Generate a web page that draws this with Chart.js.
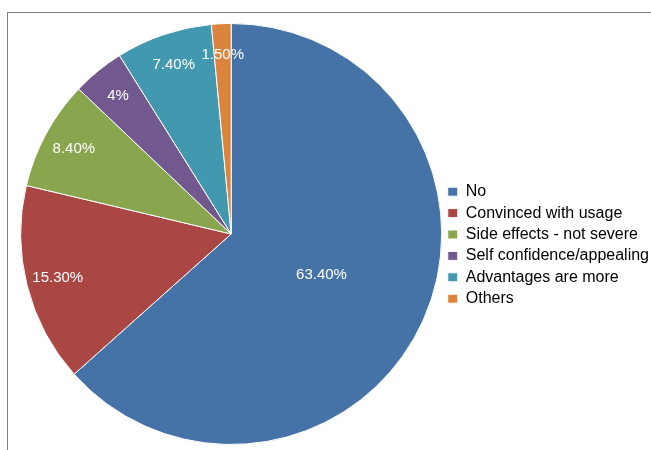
<!DOCTYPE html>
<html>
<head>
<meta charset="utf-8">
<script src="https://cdn.jsdelivr.net/npm/chart.js@4/dist/chart.umd.min.js"></script>
<style>
  html, body { margin: 0; padding: 0; background: #fff; }
  #wrap { position: relative; width: 651px; height: 450px; }
  #frame { position: absolute; left: 7px; top: 12px; right: 0; bottom: 0;
           border-left: 1px solid #7f7f7f; border-top: 1px solid #7f7f7f; }
  #pieChart { position: absolute; left: 0; top: 0; }
</style>
</head>
<body>
<div id="wrap">
  <div id="frame"></div>
  <canvas id="pieChart" width="651" height="450"></canvas>
</div>
<script>
var categories = ["No", "Convinced with usage", "Side effects - not severe",
                  "Self confidence/appealing", "Advantages are more", "Others"];
var shares = [63.4, 15.3, 8.4, 4, 7.4, 1.5];
var shareLabels = ["63.40%", "15.30%", "8.40%", "4%", "7.40%", "1.50%"];

var colorArray = ["#4572A7", "#AA4643", "#89A54E", "#71588F", "#4198AF", "#DB843D"];

// white percentage text inside each slice
var sliceLabels = {
    id: 'sliceLabels',
    afterDatasetsDraw: function(chart) {
        var ctx = chart.ctx;
        var meta = chart.getDatasetMeta(0);
        ctx.save();
        ctx.fillStyle = '#fff';
        ctx.font = '15px "Liberation Sans", Arial, sans-serif';
        ctx.textAlign = 'center';
        ctx.textBaseline = 'middle';
        for (var i = 0; i < meta.data.length; i++) {
            var arc = meta.data[i];
            var mid = (arc.startAngle + arc.endAngle) / 2;
            // big slice gets its text closer to the middle
            var r = shares[i] > 50 ? arc.outerRadius * 0.47 : arc.outerRadius * 0.85;
            ctx.fillText(shareLabels[i], arc.x + Math.cos(mid) * r, arc.y + Math.sin(mid) * r);
        }
        ctx.restore();
    }
};

var ctx = document.getElementById("pieChart").getContext("2d");
window.myPie = new Chart(ctx, {
    type: 'pie',
    data: {
        labels: categories,
        datasets: [{
            data: shares,
            backgroundColor: colorArray,
            borderColor: '#ffffff',
            borderWidth: 1
        }]
    },
    options: {
        responsive: false,
        animation: false,
        layout: { padding: { top: 23, bottom: 5, left: 20, right: -8 } },
        plugins: {
            tooltip: { enabled: false },
            legend: {
                position: 'right',
                align: 'center',
                // empty title only nudges the entries down a bit
                title: { display: true, text: ' ', padding: { top: 0, bottom: 8 }, font: { size: 12 } },
                labels: {
                    boxWidth: 10,
                    boxHeight: 9,
                    padding: 5.4,
                    color: '#000',
                    font: { family: '"Liberation Sans", Arial, sans-serif', size: 16 }
                }
            }
        }
    },
    plugins: [sliceLabels]
});
</script>
</body>
</html>
